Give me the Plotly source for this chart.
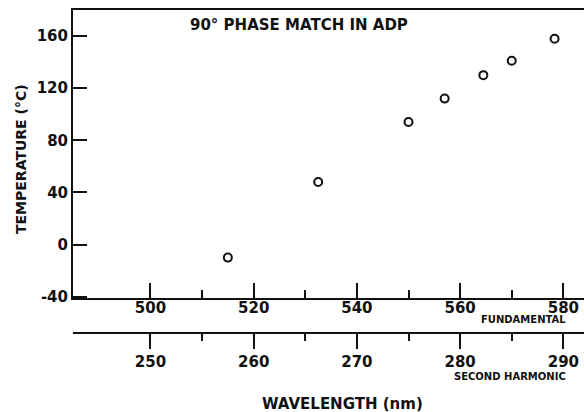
import plotly.graph_objects as go

# Data
fundamental_nm = [515, 532.5, 550, 557, 564.5, 570, 578.3]
temperature_c = [-10, 48, 94, 112, 130, 141, 158]
second_harmonic_nm = [w / 2 for w in fundamental_nm]

y_ticks = [-40, 0, 40, 80, 120, 160]
fund_ticks = [500, 520, 540, 560, 580]
sh_ticks = [250, 260, 270, 280, 290]

INK = "#111111"
FONT = "DejaVu Sans"

fig = go.Figure()
fig.add_trace(go.Scatter(
    x=fundamental_nm, y=temperature_c, mode="markers",
    marker=dict(symbol="circle-open", size=8, color=INK, line=dict(width=2, color=INK)),
    showlegend=False, hoverinfo="skip",
))
# same points on the second-harmonic axis (invisible, just to bind the axis)
fig.add_trace(go.Scatter(
    x=second_harmonic_nm, y=temperature_c, mode="markers", xaxis="x2",
    marker=dict(size=1, opacity=0), showlegend=False, hoverinfo="skip",
))

W, H = 584, 412
ml, mr, mt, mb = 73, 0, 10, 79
plot_h = H - mt - mb
plot_w = W - ml - mr
y_dom0 = (333 - 298) / plot_h

fig.update_layout(
    width=W, height=H,
    margin=dict(l=ml, r=mr, t=mt, b=mb, pad=0),
    paper_bgcolor="white", plot_bgcolor="white",
    font=dict(family=FONT, color=INK),
    xaxis=dict(
        range=[485, 584], anchor="y", showgrid=False, zeroline=False,
        showline=True, linewidth=2, linecolor=INK, mirror=True,
        tickmode="array", tickvals=fund_ticks, ticktext=[str(v) for v in fund_ticks],
        ticks="inside", ticklen=15, tickwidth=2, tickcolor=INK, ticklabelstandoff=-5,
        tickfont=dict(family=FONT, size=15, color=INK, weight="bold"),
        minor=dict(tickmode="array", tickvals=[510, 530, 550, 570], ticks="inside",
                   ticklen=8, tickwidth=2, tickcolor=INK),
    ),
    xaxis2=dict(
        range=[242.5, 292], overlaying="x", anchor="free", position=0,
        side="bottom", showgrid=False, zeroline=False,
        showline=True, linewidth=2, linecolor=INK,
        tickmode="array", tickvals=sh_ticks, ticktext=[str(v) for v in sh_ticks],
        ticks="outside", ticklen=15, tickwidth=2, tickcolor=INK,
        tickfont=dict(family=FONT, size=15, color=INK, weight="bold"),
        minor=dict(tickmode="array", tickvals=[255, 265, 275, 285], ticks="outside",
                   ticklen=7, tickwidth=2, tickcolor=INK),
    ),
    yaxis=dict(
        range=[-41, 180], domain=[y_dom0, 1], showgrid=False, zeroline=False,
        showline=True, linewidth=2, linecolor=INK,
        tickmode="array", tickvals=y_ticks, ticktext=[str(v) for v in y_ticks],
        ticks="inside", ticklen=14, tickwidth=2, tickcolor=INK,
        tickfont=dict(family=FONT, size=15, color=INK, weight="bold"),
    ),
)


def px_x(x):
    return (x - ml) / plot_w


def px_y(y):
    return 1 - (y - mt) / plot_h


fig.add_annotation(text="90° PHASE MATCH IN ADP", xref="paper", yref="paper",
                   x=px_x(299), y=px_y(25),
                   showarrow=False, xanchor="center", yanchor="middle",
                   font=dict(family=FONT, size=15, color=INK, weight="bold"))
fig.add_annotation(text="FUNDAMENTAL", xref="paper", yref="paper",
                   x=px_x(568), y=px_y(319),
                   showarrow=False, xanchor="right", yanchor="middle",
                   font=dict(family=FONT, size=10, color=INK, weight="bold"))
fig.add_annotation(text="SECOND HARMONIC", xref="paper", yref="paper",
                   x=px_x(568), y=px_y(376),
                   showarrow=False, xanchor="right", yanchor="middle",
                   font=dict(family=FONT, size=10, color=INK, weight="bold"))
fig.add_annotation(text="WAVELENGTH (nm)", xref="paper", yref="paper",
                   x=px_x(342), y=px_y(404),
                   showarrow=False, xanchor="center", yanchor="middle",
                   font=dict(family=FONT, size=15, color=INK, weight="bold"))
fig.add_annotation(text="TEMPERATURE (°C)", xref="paper", yref="paper",
                   x=px_x(21), y=px_y(159),
                   showarrow=False, xanchor="center", yanchor="middle", textangle=-90,
                   font=dict(family=FONT, size=14, color=INK, weight="bold"))

fig.write_html("out.html", config={"displayModeBar": False},
               post_script="document.body.style.margin='0px';")
